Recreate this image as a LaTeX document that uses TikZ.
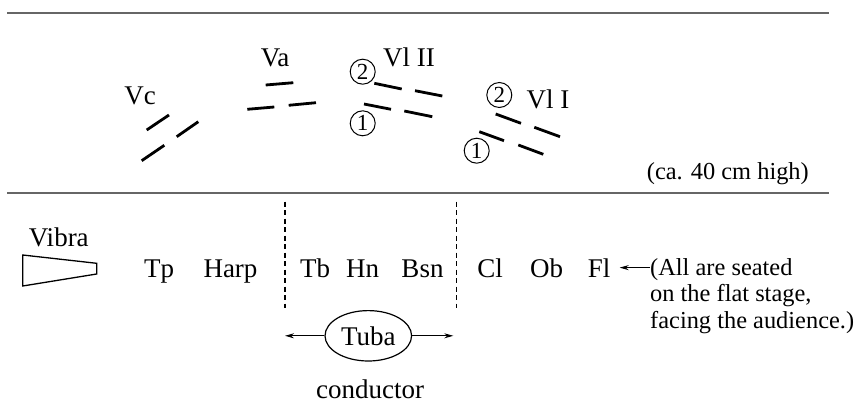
\documentclass[tikz,border=0pt]{standalone}
\usepackage{fontspec}
\setmainfont{Liberation Serif}
\usetikzlibrary{arrows.meta,shapes.geometric}
\begin{document}
\begin{tikzpicture}[x=1pt,y=-1pt,
  lbl/.style={font=\fontsize{27}{28}\selectfont, inner sep=0pt, anchor=base},
  remark/.style={font=\fontsize{24.4}{26.7}\selectfont, inner sep=0pt, anchor=base west},
  desk/.style={line width=2.8pt},
  rule/.style={line width=2pt, draw=black!60},
  num/.style={circle, draw, line width=1pt, inner sep=0pt, minimum size=25pt,
              font=\fontsize{23}{23}\selectfont},
  divider/.style={line width=1.2pt, dash pattern=on 5pt off 3.5pt},
  pointer/.style={line width=1pt, -{Stealth[length=9pt,width=5pt]}},
]
\useasboundingbox (0,0) rectangle (856,403);

% stage edges
\coordinate (topL) at (7,13);
\coordinate (topR) at (829,13);
\coordinate (midL) at (7,192.7);
\coordinate (midR) at (829,192.7);
\draw[rule] (topL) -- (topR);
\draw[rule] (midL) -- (midR);

% raised strings
\node[lbl] (vc) at (140,105) {Vc};
\draw[desk] (146.7,130) -- (169,115);
\draw[desk] (176.7,136.7) -- (198.3,121.7);
\draw[desk] (141.7,160.7) -- (164.3,145.3);

\node[lbl] (va) at (275,66.7) {Va};
\draw[desk] (265.7,85) -- (293.3,82.7);
\draw[desk] (247.3,109.3) -- (274.3,107);
\draw[desk] (288.7,105.3) -- (316,102.7);

\node[lbl] (vl2) at (409,66.7) {Vl II};
\node[num] (vl2a) at (362.7,71.7) {2};
\node[num] (vl2b) at (362.7,123.3) {1};
\draw[desk] (374.3,83.3) -- (401.7,89);
\draw[desk] (415,90.7) -- (442.3,96);
\draw[desk] (364,104) -- (391,109.3);
\draw[desk] (404.3,111) -- (432.3,116.7);

\node[lbl] (vl1) at (548,108.3) {Vl I};
\node[num] (vl1a) at (499.3,95) {2};
\node[num] (vl1b) at (476.7,150.7) {1};
\draw[desk] (495.7,114) -- (521,123.3);
\draw[desk] (534.3,127.3) -- (560,136.7);
\draw[desk] (479.3,131.7) -- (504,140.7);
\draw[desk] (518.3,145) -- (543.3,154.3);

\node[remark, anchor=base east] (high) at (809,180) {(ca. 40 cm high)};

% flat stage
\node[lbl] (vibra) at (58.8,246.7) {Vibra};
\draw[line width=1.3pt] (22.7,255) -- (96.7,263.3) -- (96.7,274) -- (22.7,286) -- cycle;

\node[lbl] (tp) at (159,277) {Tp};
\node[lbl] (harp) at (230.5,277) {Harp};
\node[lbl] (tb) at (315,277) {Tb};
\node[lbl] (hn) at (362.5,277) {Hn};
\node[lbl] (bsn) at (422.5,277) {Bsn};
\node[lbl] (cl) at (490,277) {Cl};
\node[lbl] (ob) at (546.7,277) {Ob};
\node[lbl] (fl) at (599.2,277) {Fl};

\coordinate (d1t) at (285,201.7);
\coordinate (d1b) at (285,308.3);
\coordinate (d2t) at (456.7,201.7);
\coordinate (d2b) at (456.7,308.3);
\draw[divider] (d1t) -- (d1b);
\draw[divider] (d2t) -- (d2b);

\node[remark] (note1) at (650,275) {(All are seated};
\node[remark] (note2) at (650,301.7) {on the flat stage,};
\node[remark] (note3) at (650,328.3) {facing the audience.)};
\draw[pointer] (note1.west |- fl.center) -- ([xshift=9pt]fl.east);

\node[ellipse, draw, line width=1.2pt, minimum width=86.6pt, minimum height=50.4pt,
      inner sep=0pt, font=\fontsize{27}{28}\selectfont] (tuba) at (368.3,335.8) {Tuba};
\coordinate (tubaL) at (285,335.8);
\coordinate (tubaR) at (453.3,335.8);
\draw[pointer] (tuba.west) -- (tubaL);
\draw[pointer] (tuba.east) -- (tubaR);

\node[lbl] (cond) at (370,398) {conductor};
\end{tikzpicture}
\end{document}
